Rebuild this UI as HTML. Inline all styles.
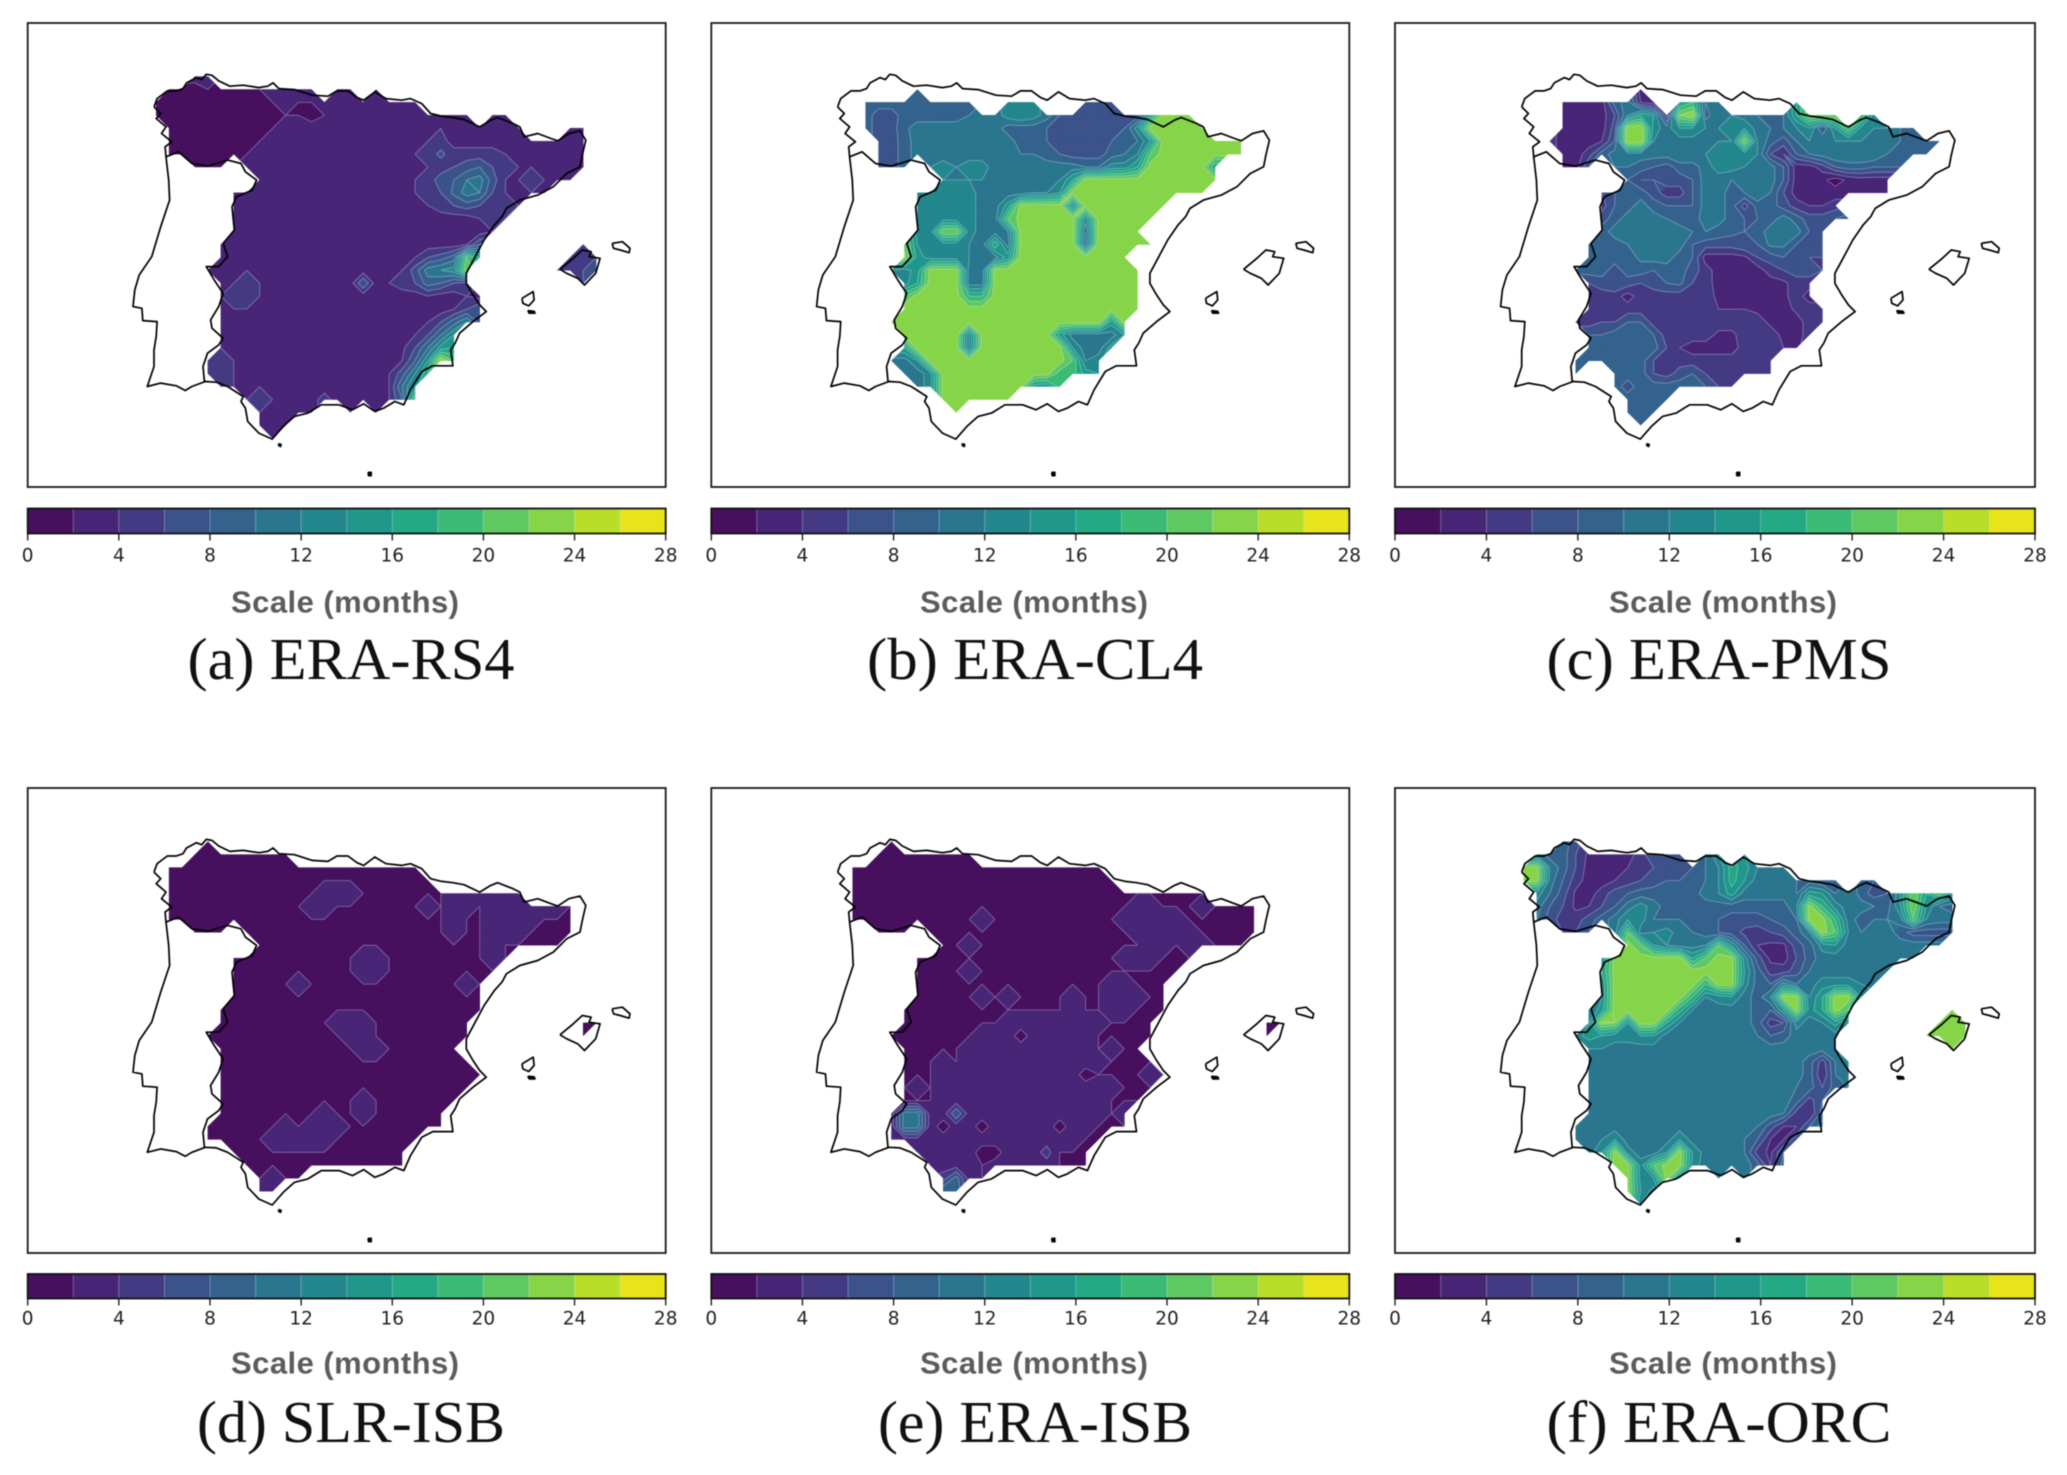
<!DOCTYPE html>
<html lang="en">
<head>
<meta charset="utf-8">
<title>Scale maps of Spain</title>
<style>
html,body{margin:0;padding:0;background:#fff;width:2067px;height:1475px;overflow:hidden}
svg{display:block;filter:blur(0.5px)}
.cap{font-family:"Liberation Serif",serif;font-size:59px;fill:#111;text-anchor:middle;dominant-baseline:central}
.scale{font-family:"Liberation Sans",sans-serif;font-size:31px;font-weight:bold;fill:#5c5c5c;text-anchor:middle;dominant-baseline:central}
.tick{font-family:"DejaVu Sans",sans-serif;font-size:18.5px;fill:#222;text-anchor:middle;dominant-baseline:central}
</style>
</head>
<body>
<svg id="figure" xmlns="http://www.w3.org/2000/svg" width="2067" height="1475" viewBox="0 0 2067 1475">
  <rect x="0" y="0" width="2067" height="1475" fill="#fff"/>
  <g id="panels"></g>
  <text class="scale" x="345" y="602" textLength="228">Scale (months)</text>
  <text class="scale" x="1034" y="602" textLength="228">Scale (months)</text>
  <text class="scale" x="1723" y="602" textLength="228">Scale (months)</text>
  <text class="scale" x="345" y="1363" textLength="228">Scale (months)</text>
  <text class="scale" x="1034" y="1363" textLength="228">Scale (months)</text>
  <text class="scale" x="1723" y="1363" textLength="228">Scale (months)</text>
  <text class="cap" x="351" y="659" textLength="327" lengthAdjust="spacingAndGlyphs">(a) ERA-RS4</text>
  <text class="cap" x="1035" y="659" textLength="336" lengthAdjust="spacingAndGlyphs">(b) ERA-CL4</text>
  <text class="cap" x="1719" y="659" textLength="345" lengthAdjust="spacingAndGlyphs">(c) ERA-PMS</text>
  <text class="cap" x="351" y="1422" textLength="308" lengthAdjust="spacingAndGlyphs">(d) SLR-ISB</text>
  <text class="cap" x="1035" y="1422" textLength="314" lengthAdjust="spacingAndGlyphs">(e) ERA-ISB</text>
  <text class="cap" x="1719" y="1422" textLength="345" lengthAdjust="spacingAndGlyphs">(f) ERA-ORC</text>
</svg>
<script>
// Contour levels and colorbar tick labels (months)
const levels = [0,2,4,6,8,10,12,14,16,18,20,22,24,26,28];
const tickLabels = [0,4,8,12,16,20,24,28];

// Scale values on the model grid, one string per row. "v*n" repeats v n times, "_" is no data.
const gridA = [
"_*3 3*2",
"_ 1*3 2 1*3 2 3*4 _ 3*2 _ 3",
"1*9 2 3 2*2 3*8",
"1*10 2*2 1 2 3*11 _ 3*2",
"_ 1*8 2 3*12 4 3*6 _*3 3*2",
"_ 1*7 2 3*12 4 5 3*11",
"_ 1*6 2 3*12 4 5 6.5 5*4 4 3*6",
"_*3 1*3 _ 3*14 4 5 6 7 8 6 5 4 4 3*4",
"_*8 3*12 4 5 7 8 10 11 7 4 4 5 4 3*2",
"_*6 3*14 4 5 6 8.5 11 10 6 4 3 4 3",
"_*6 3*15 4 5 6 7 6 5 5 4",
"_*6 3*19 4 5 4",
"_*6 3*20 4",
"_*5 3*19 4 8 _*7 6",
"_*5 3*15 4 6 7 9 20 16 _*6 6*3",
"_*4 3*3 4 3*11 4 7 11 12 13 22 _*6 6*3 8",
"_*5 3 4 5 4 3*7 8 3 4 5 6 9 8 6 5 _*8 6",
"_*5 4 5 5 4 3*12 4 3*2 4 3",
"_*5 3 4 4 3*15 4 6 8",
"_*5 3*16 4 6 9 12 7",
"_*5 3*15 4 6 10 14",
"_*5 4 3*13 3.5 6 10 15 16",
"_*4 5 5 4 3*12 4 8 14 24 20",
"_*4 5 5 4 3*11 4 7 12 18",
"_*5 5 4*3 3*9 4 10 15",
"_*7 4 5 4 3*3 5 3*4 4 8 20",
"_*8 4 3*4 _*2 3 _ 3",
"_*8 3*3",
"_*9 3"
];
const gridB = [
"_",
"_*6 9",
"_*2 9*9 _*2 13 14 13 _*3 7*3",
"_*2 9 7 7 9*5 10 11*2 13 14 13 11 8*2 7*5 16 23*3",
"_*2 9 7 7 9.5 11*7 9*3 8 7*5 8 13 23*5",
"_*3 7 7 9 11*8 9*2 8 7*4 8 9 10 14 23*7",
"_*3 7 7 9 11*8 10*2 9 8 7*3 9 10 12 20 23*7",
"_*3 7 7 9 _ 12 13 12 13*2 11*7 10*2 13*2 16 23*5 16",
"_*8 12*4 11*5 12 16 23*11",
"_*6 12 13*4 11*4 12*2 14 23*11",
"_*6 12 13*4 11*2 15 23*4 13 23*7",
"_*6 12 13*4 11*2 20 23*5 13 23*5",
"_*6 13*2 22*2 13 11*2 12 23*5 10 23*4",
"_*5 21 14 13*3 12 11 18 11 23*5 10 23*5",
"_*5 23 15 13*3 12*2 11 15 23*9",
"_*4 14 13 15 23*3 11*2 23*12",
"_*5 13 16 23*3 11*2 23*12",
"_*5 20 23*4 18*2 23*12",
"_*5 23*19",
"_*4 23*17 15 23",
"_*5 23*5 12 23*6 15 11*4 14",
"_*5 16 23*4 12 23*7 14 11*2 15",
"_*4 11*2 14 23*11 20 12 13",
"_*5 11*2 13 23*9 19*2 15 14",
"_*6 11 13 23*7 15 14 19",
"_*8 23*6",
"_*9 23"
];
const gridC = [
"_",
"_*9 3",
"_*3 3*4 9 11 4 3 _ 16 18 10 11 _*5 16",
"_*3 3*4 6 12 16 14 5 22 24 9 12 12 11 10 10 10 16 22*3 _ 20 13",
"_*3 3*4 7 24*2 13 11 14 14 12 12 14 14 11 10 10 12 14 8 14 20 13 12 12 10 9",
"_*2 5 3*3 4 8 24*2 12 11*3 12*3 22 12 9 7 10 12*6 11 10 9*3",
"_*3 3*2 5 9 11*5 12*3 13*3 12 6 4 8 10 11 12*4 10 9*2 8",
"_*3 3*2 8 _ 10 10 9 8 7 9 9 11 13 13 12 12 11 8 3 3 5 8 9 9 8 8 8",
"_*8 8 6 6 7 7 8 11 11 10 11 12 11 8 3 3 2.5 1 2.5 3*3",
"_*6 6 8 9 9 7 5 5 8 11 11 9 10 12 10 6 3*8",
"_*6 5 8 9 11 9 8 8 8 11 11 9 5 9 9 7 5 4 4 5",
"_*6 7 9 11 11 11 10 9 9 11 11 9 8 8 9 11 9 7 7 8 9",
"_*6 9 11*6 10 10 9 8.5 8 9 11*3 8 8",
"_*5 8 9 9 10 11*4 8 7*3 8 8 10.5 10.5 8 7 7",
"_*5 9*4 10.5 11 11 9 8 3*3 3.5 6 7 8 7 6 6",
"_*4 9 9 9 7 9 9 8 9 9 7 5 3*4 5 6 7 7 6",
"_*5 6 7 8 7 6 7 8 8.5 6 5 3*5 3.5 5 5",
"_*5 5*3 3 5*6 3.5 3*4 3.5 5 3",
"_*5 6 6 5*8 4*3 3.5 3*2 4.5 5*2",
"_*4 5 5 6 6 8 8 5*9 3.5 3 3 5 5",
"_*5 8 8 9*3 8 5*4 3.5*2 5*3 3.5 3 5",
"_*5 9*6 6 4 3*4 5*3 4 3.5",
"_*4 9*6 6 4.5 5*8",
"_*4 9 _*2 9*3 6 5 7 8 6 5*5",
"_*7 9 7 9*5 8 6 6",
"_*8 9*4",
"_*8 9*3",
"_*9 9"
];
const gridD = [
"_*4 2",
"_*3 2*8",
"_ 2*20",
"_ 2*21",
"_ 2*12 3*3 2*7 3*3 2 3*2",
"_ 2*11 3*2 2*7 3 2 3*2 2 3*6 2",
"_ 2*22 3 2*2 3*4 2*3",
"_*3 2*3 _ 2*16 3 2*2 3*3 2*4",
"_*8 2*18 3 2*5",
"_*6 2*10 3*2 2*8 3 2",
"_*6 2*10 3*2 2*9",
"_*6 2*5 3 2*12 3 2",
"_*6 2*20",
"_*5 2*21",
"_*5 2*9 3*3 2*8 _*8 2*2",
"_*4 2*11 3*2 2*8 _*8 2",
"_*5 2*11 3*2 2*6",
"_*5 2*20",
"_*5 2*21",
"_*5 2*20",
"_*5 2*11 3 2*7",
"_*5 2*8 3 2*2 3 2*6",
"_*4 2*6 3 2 3*3 2*8",
"_*4 2*5 3*5 2*7",
"_*6 2*14",
"_*7 2*13",
"_*8 2 3 2*2",
"_*8 3*2"
];
const gridE = [
"_*4 2",
"_*3 2*8",
"_ 2*20",
"_ 2*21",
"_ 2*28",
"_ 2*22 3*2 2*3 3 2*4",
"_ 2*10 3 2*10 3*5 2*6",
"_*3 2*3 _ 2*16 3*5 2*5",
"_*8 2*2 3 2*13 3*2 2 3*2 2*3",
"_*6 2*16 3*3 2*3",
"_*6 2*4 3 2*16",
"_*6 2*15 3*2 2*3",
"_*6 2*5 3 2 3 2*4 3 2*2 3*3 2*2",
"_*5 2*13 3 2*2 3*2 2*3",
"_*5 2*8 3*8 2*4 _*8 2*2",
"_*4 2*7 3*3 1 3*5 2*5 _*8 2",
"_*5 2*5 3*10 2 3 2*2",
"_*5 2*3 3 2 3*11 2*4",
"_*5 2*3 3*11 1 2*4 3 2",
"_*5 2 3 2 3*14 2*3",
"_*5 2*3 3*13 2*3",
"_*4 3 11*2 3*2 8 3*11 2 3",
"_*4 3 11*2 3 1 3*2 1 3*5 1 3*2 2*3",
"_*4 3*15 2*2",
"_*6 2 3*4 1*2 3*3 5 2*3",
"_*7 2 3*3 2 3*5 2*3",
"_*8 5 9 3 2",
"_*8 10 10"
];
const gridF = [
"_*3 9 7",
"_ 11 9 9 6 3.5 3*3 5 8*3 _ 10 14 _ 14",
"23*2 12 9 6 3*3 4 5 6 8*3 10 12 17 15 12 11 11",
"23*2 11 8 5 3 3 4 5 6 7 8 8 9 10 12 17 14 11 11 11 10 9 8 8 _ 9 8",
"_ 13 10 7 3.5 3 5 7 8 9*5 11 12 15 11*4 10 15 14 10 12 9 7 8 14 22 16 20 14",
"_ 11 8 6 3.5 4 6 8 11 13 11 9 10 9*8 12 23 18 13 11 11 10 9 14 22 14 10 9",
"_ 10 7 5 5 7 9 11 14 13 10*3 9 9 8 7*3 8 9 10 23 23 18 11 9 10 10 11 20 12 11 11",
"_*3 6 6 8 _ 11 20 11 12 13 11 10 9 8 7 5.5 5 6 7 9 12 23 20 12 10 10.5 11 9 7*4",
"_*8 23 20 14 12 11 11 12 20 14 8 4 3.5 3.5 7 9 13 14 11*8",
"_*6 14 23*6 16 20 23 23 13 7 3.5 3 6 9 11*8",
"_*6 16 23*10 14 9 5 5 7 10 11*6",
"_*6 14 23*7 18 23 23 13 9 8 13 10 11 13*3 12 11",
"_*6 14 23*6 18 12 13 14 11 9 12 23 23 12 16 23 23 14",
"_*5 12 15 23*5 17 12 11*4 9 8 14 23 13 16 23 20 _*7 23",
"_*5 14 23 22 14 23 23 16 12 11*5 9 5 6 13 11 12 15 11 _*6 23*3",
"_*4 13 15 14 13 13 14 14 11*7 10 8 9 11*4 _*6 23*4",
"_*5 12 12 11*18 _*8 23",
"_*5 11*17 9 5 10 14",
"_*5 11*17 9 4 10 11",
"_*5 11*16 10 9 6 9 10",
"_*5 11*16 9 5 8",
"_*5 11*15 10 5 4 9",
"_*4 11*14 10 7 4 4 8 11",
"_*4 11*2 12 14 11*4 14 11*4 10 8 4 4 7",
"_*5 11 14 23 13 11 11 14 23 14 11*3 10 5 3.5 8",
"_*7 23*2 13 20 23*2 13 11*4 9 4 9",
"_*8 23 13 14 23 14 _*2 11 _ 11",
"_*8 23 14 11",
"_*9 12"
];
const panelIds = ["a","b","c","d","e","f"];
const panelGrids = [gridA,gridB,gridC,gridD,gridE,gridF];

// Binned viridis colormap, one colour per interval
const binColors = ["#47105f","#482576","#443a83","#3b528b","#33638d","#2a768e","#23878d","#1f988b","#23a983","#3bbb75","#5ec962","#86d549","#b8de29","#e7e419"];

// Base map outlines
const coastMain = [345,320,352,295,375,272,395,272,410,265,418,248,440,232,452,238,462,222,475,225,490,242,515,258,545,255,580,262,600,258,612,248,625,265,660,268,700,285,735,288,755,272,780,272,800,292,815,300,840,275,865,295,900,300,920,295,945,310,965,340,990,348,1015,352,1040,358,1075,380,1100,360,1115,352,1150,370,1165,380,1175,410,1205,400,1235,415,1250,422,1275,400,1300,392,1313,420,1305,465,1300,500,1270,520,1240,560,1205,585,1165,600,1135,625,1125,650,1108,675,1085,720,1065,770,1045,820,1045,850,1060,885,1075,915,1090,935,1060,965,1030,1000,1020,1030,1010,1050,1015,1098,970,1098,945,1115,920,1170,905,1215,885,1205,860,1225,840,1235,815,1212,790,1230,760,1215,720,1215,690,1240,660,1250,635,1280,610,1318,580,1300,555,1265,550,1225,540,1205,545,1190,510,1160,485,1147,460,1145,430,1160,415,1172,395,1158,360,1150,330,1160,345,1100,345,1050,350,1010,352,965,320,962,318,925,298,920,302,870,312,825,340,770,360,680,380,600,378,540,372,470,370,440,385,425,362,400,372,380,350,355,360,340,345,320];
const borderLine = [372,470,400,455,430,490,465,498,510,480,540,490,550,515,575,540,565,570,530,590,520,620,525,690,500,730,510,770,490,800,462,800,480,840,500,880,490,920,472,960,475,985,500,1015,490,1035,465,1060,455,1100,458,1145];
const islandMallorca = [1255,808,1285,775,1305,750,1325,755,1320,770,1345,775,1335,820,1310,855,1295,835,1270,820,1255,808];
const islandMenorca = [1372,730,1395,725,1412,745,1410,758,1390,750,1375,745,1372,730];
const islandIbiza = [1170,895,1195,875,1197,900,1185,918,1172,910,1170,895];
const islandFormentera = [1183,932,1197,934,1199,940,1186,940,1183,932];
const islandAlboran = [624,1332,630,1334,629,1340,625,1338,624,1332];
const islandMelilla = [825,1418,832,1418,832,1428,826,1428,825,1418];
const basePaths = [
  ["coastline",coastMain,"none"],["portugal-border",borderLine,"none"],["mallorca",islandMallorca,"none"],["menorca",islandMenorca,"none"],
  ["ibiza",islandIbiza,"none"],["formentera",islandFormentera,"#000"],["alboran",islandAlboran,"#000"],["melilla",islandMelilla,"#000"]
];

const NS = "http://www.w3.org/2000/svg";
const panelsRoot = document.getElementById("panels");

function frameOf(idx){
  const xs = [27.7,711.3,1395];
  const ws = [638,638,640];
  const col = idx % 3;
  const upper = idx < 3;
  return {x:xs[col], y:upper?23:788, w:ws[col], h:upper?464:465};
}
function mapX(f,z){ return f.x + (z-62)/1430*f.w; }
function mapY(f,z){ return f.y + (z-68)/1394*f.h; }
function colX(f,i){ return mapX(f,350+29*i); }
function rowY(f,j){ return mapY(f,229+38.8*j); }
function barX(f,v){ return f.x + (v-levels[0])/(levels[levels.length-1]-levels[0])*f.w; }

function parseGrid(rows){
  return rows.map(function(r){
    const out = [];
    r.trim().split(/\s+/).forEach(function(tok){
      const parts = tok.split("*");
      const count = parts[1] ? +parts[1] : 1;
      for(let k=0;k<count;k++){ out.push(parts[0]==="_" ? null : +parts[0]-0.001); }
    });
    return out;
  });
}
function clipPoly(poly,lim,above){
  const out = [];
  for(let i=0;i<poly.length;i++){
    const p = poly[i], q = poly[(i+1)%poly.length];
    const pin = above ? p.v>=lim : p.v<lim;
    const qin = above ? q.v>=lim : q.v<lim;
    if(pin){ out.push(p); }
    if(pin!==qin){
      const t = (lim-p.v)/(q.v-p.v);
      out.push({x:p.x+t*(q.x-p.x), y:p.y+t*(q.y-p.y), v:lim});
    }
  }
  return out;
}
function quadCells(f,g){
  const cells = [];
  for(let j=0;j<g.length-1;j++){
    const r0 = g[j], r1 = g[j+1];
    const n = Math.max(r0.length,r1.length);
    for(let i=0;i<n-1;i++){
      const raw = [[i,j,r0[i]],[i+1,j,r0[i+1]],[i+1,j+1,r1[i+1]],[i,j+1,r1[i]]];
      const vs = raw.filter(function(c){ return c[2]!==null && c[2]!==undefined; });
      if(vs.length>=3){
        cells.push(vs.map(function(c){ return {x:colX(f,c[0]), y:rowY(f,c[1]), v:c[2]}; }));
      }
    }
  }
  return cells;
}
function fmt(n){ return n.toFixed(1); }
function polyD(points){
  return "M"+points.map(function(p){ return fmt(p.x)+" "+fmt(p.y); }).join("L")+"Z";
}
function flatD(arr,closed){
  let d = "";
  for(let k=0;k<arr.length;k+=2){ d += (k?"L":"M")+fmt(arr[k])+" "+fmt(arr[k+1]); }
  return d+(closed?"Z":"");
}

function drawPanel(idx){
  const id = panelIds[idx];
  const f = frameOf(idx);
  const g = parseGrid(panelGrids[idx]);
  const cells = quadCells(f,g);
  const panel = document.createElementNS(NS,"g");
  
  
  panelsRoot.appendChild(panel);

  // filled contour bands
  const bands = document.createElementNS(NS,"g");
  
  
  panel.appendChild(bands);
  for(let b=0;b<levels.length-1;b++){
    let d = "";
    cells.forEach(function(cell){
      let poly = clipPoly(cell,levels[b],true);
      if(poly.length>=3){ poly = clipPoly(poly,levels[b+1],false); }
      if(poly.length>=3){ d += polyD(poly); }
    });
    if(d){
      const path = document.createElementNS(NS,"path");
      path.setAttribute("d",d);
      path.setAttribute("fill",binColors[b]);
      path.setAttribute("stroke",binColors[b]);
      path.setAttribute("stroke-width","0.5");
      
      
      bands.appendChild(path);
    }
  }

  // pale contour lines between bands
  let lineD = "";
  levels.slice(1,-1).forEach(function(L){
    cells.forEach(function(cell){
      const hits = [];
      for(let i=0;i<cell.length;i++){
        const p = cell[i], q = cell[(i+1)%cell.length];
        if((p.v<L)!==(q.v<L)){
          const t = (L-p.v)/(q.v-p.v);
          hits.push({x:p.x+t*(q.x-p.x), y:p.y+t*(q.y-p.y)});
        }
      }
      for(let h=0;h+1<hits.length;h+=2){
        lineD += "M"+fmt(hits[h].x)+" "+fmt(hits[h].y)+"L"+fmt(hits[h+1].x)+" "+fmt(hits[h+1].y);
      }
    });
  });
  const lines = document.createElementNS(NS,"path");
  lines.setAttribute("d",lineD);
  lines.setAttribute("fill","none");
  lines.setAttribute("stroke","rgba(235,225,255,0.4)");
  lines.setAttribute("stroke-width","0.8");
  
  
  panel.appendChild(lines);

  // base map
  basePaths.forEach(function(entry){
    const pts = [];
    for(let k=0;k<entry[1].length;k+=2){
      pts.push(mapX(f,entry[1][k]));
      pts.push(mapY(f,entry[1][k+1]));
    }
    const path = document.createElementNS(NS,"path");
    path.setAttribute("d",flatD(pts,false));
    path.setAttribute("fill",entry[2]);
    path.setAttribute("stroke","#000");
    path.setAttribute("stroke-width","1.7");
    path.setAttribute("stroke-linejoin","round");
    
    
    panel.appendChild(path);
  });

  // map frame
  const frame = document.createElementNS(NS,"rect");
  frame.setAttribute("x",f.x);
  frame.setAttribute("y",f.y);
  frame.setAttribute("width",f.w);
  frame.setAttribute("height",f.h);
  frame.setAttribute("fill","none");
  frame.setAttribute("stroke","#1a1a1a");
  frame.setAttribute("stroke-width","1.8");
  
  
  panel.appendChild(frame);

  // colorbar
  const upper = idx < 3;
  const barTop = upper ? 508.5 : 1274;
  const barH = upper ? 25 : 24.5;
  const labelY = upper ? 556 : 1319;
  const bar = document.createElementNS(NS,"g");
  
  
  panel.appendChild(bar);
  for(let b=0;b<levels.length-1;b++){
    const seg = document.createElementNS(NS,"rect");
    seg.setAttribute("x",barX(f,levels[b]));
    seg.setAttribute("y",barTop);
    seg.setAttribute("width",barX(f,levels[b+1])-barX(f,levels[b])+0.4);
    seg.setAttribute("height",barH);
    seg.setAttribute("fill",binColors[b]);
    
    
    bar.appendChild(seg);
    if(b>0){
      const sep = document.createElementNS(NS,"line");
      sep.setAttribute("x1",barX(f,levels[b]));
      sep.setAttribute("x2",barX(f,levels[b]));
      sep.setAttribute("y1",barTop);
      sep.setAttribute("y2",barTop+barH);
      sep.setAttribute("stroke","rgba(235,225,255,0.35)");
      sep.setAttribute("stroke-width","1");
      
      
      bar.appendChild(sep);
    }
  }
  const outline = document.createElementNS(NS,"rect");
  outline.setAttribute("x",barX(f,0));
  outline.setAttribute("y",barTop);
  outline.setAttribute("width",f.w);
  outline.setAttribute("height",barH);
  outline.setAttribute("fill","none");
  outline.setAttribute("stroke","#111");
  outline.setAttribute("stroke-width","1.8");
  
  
  bar.appendChild(outline);
  tickLabels.forEach(function(v){
    const tx = barX(f,v);
    const tick = document.createElementNS(NS,"line");
    tick.setAttribute("x1",tx);
    tick.setAttribute("x2",tx);
    tick.setAttribute("y1",barTop+barH);
    tick.setAttribute("y2",barTop+barH+7);
    tick.setAttribute("stroke","#111");
    tick.setAttribute("stroke-width","1.3");
    
    
    bar.appendChild(tick);
    const label = document.createElementNS(NS,"text");
    label.setAttribute("class","tick");
    label.setAttribute("x",tx);
    label.setAttribute("y",labelY);
    
    
    label.textContent = String(v);
    bar.appendChild(label);
  });
}
panelIds.forEach(function(_,i){ drawPanel(i); });
</script>
</body>
</html>
